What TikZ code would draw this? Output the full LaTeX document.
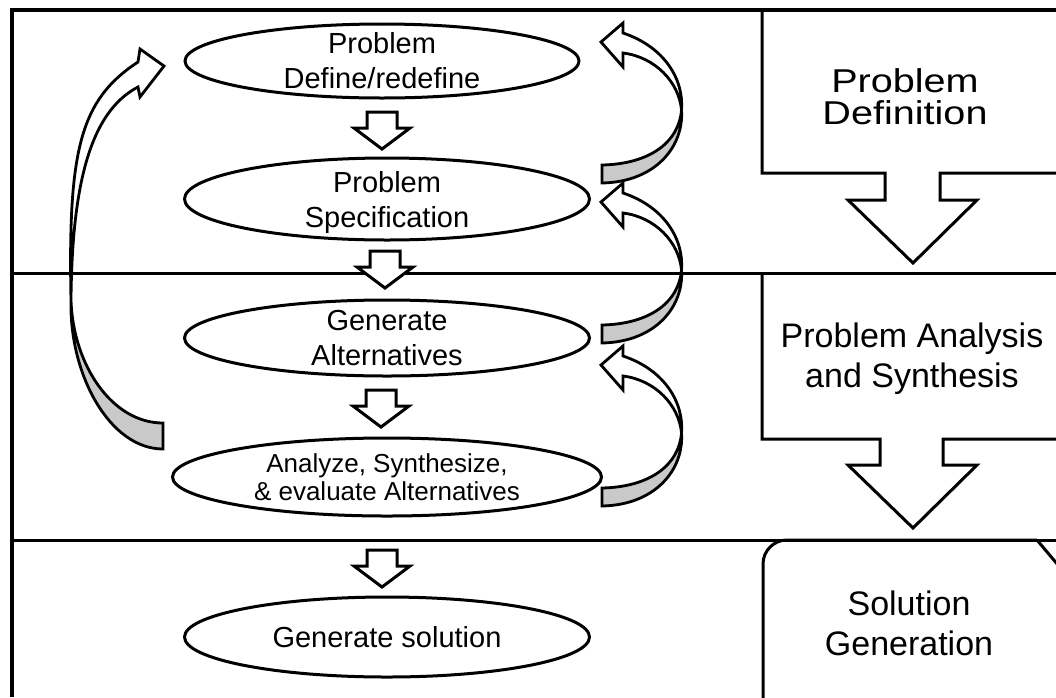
\documentclass[tikz,border=0pt]{standalone}
\usepackage{fontspec}
\setmainfont{Liberation Sans}
\newfontfamily\widesans[FakeStretch=1.2]{Liberation Sans}
\usetikzlibrary{shapes.geometric}

\begin{document}
\begin{tikzpicture}[x=1pt,y=-1pt,
  frame/.style={line width=3.5pt},
  divider/.style={line width=3pt},
  outline/.style={line width=3pt, line join=miter},
  stage/.style={ellipse, draw, line width=3pt, fill=white, inner sep=0pt},
  stagetext/.style={align=center, inner sep=0pt, font=\fontsize{29}{35}\selectfont},
  phase/.style={align=center, inner sep=0pt, font=\fontsize{34}{40}\selectfont},
  ribbon/.style={fill=white, draw, line width=2.8pt, line join=miter},
  underside/.style={fill=black!21, draw, line width=2.8pt, line join=miter},
  smalldown/.pic={\draw[outline, fill=white] (-15,0) -- (15,0) -- (15,16) -- (28,16)
      -- (0,37) -- (-28,16) -- (-15,16) -- cycle;},
  returnloop/.pic={
    \draw[underside] (80.5,68) .. controls (78,100) and (49,122) .. (1,123) -- (1,141)
      .. controls (54,140) and (83,105) .. (80.5,68) -- cycle;
    \draw[ribbon] (22,11) .. controls (54,15) and (78,40) .. (80.5,68)
      .. controls (83,38) and (64,5) .. (22,-9) -- (22,-19) -- (0,0) -- (22,25) -- cycle;}
]
\useasboundingbox (0,0) rectangle (1056,697);

% frame and phase dividers
\draw[frame] (12,697) -- (12,10) -- (1056,10);
\draw[divider] (12,273) -- (1056,273);
\draw[divider] (12,540) -- (1056,540);

% phase blocks on the right
\draw[outline] (762,10) -- (762,173) -- (885,173) -- (885,200) -- (848,200) -- (913,263)
  -- (977,200) -- (940,200) -- (940,173) -- (1056,173);
\draw[outline] (762,273) -- (762,439) -- (880,439) -- (880,465) -- (848,465) -- (913,528)
  -- (977,465) -- (943,465) -- (943,439) -- (1056,439);
\draw[outline, rounded corners=24pt] (763,700) -- (763,540) -- (1037,540);
\draw[outline] (1037,540) -- (1058,565);

\node[phase, font=\widesans\fontsize{33}{32}\selectfont] (defphase) at (905,97) {Problem\\Definition};
\node[phase] (anaphase) at (912,359) {Problem Analysis\\and Synthesis};
\node[phase] (solphase) at (909,623) {Solution\\Generation};

% design stages
\node[stage, minimum width=394pt, minimum height=74pt] (define) at (382,61) {};
\node[stage, minimum width=405pt, minimum height=82pt] (spec) at (387,199) {};
\node[stage, minimum width=405pt, minimum height=76pt] (gen) at (387,338) {};
\node[stage, minimum width=429pt, minimum height=78pt] (eval) at (387,477) {};
\node[stage, minimum width=405pt, minimum height=80pt] (sol) at (387,637) {};

\node[stagetext] (define-t) at (define.center) {Problem\\Define/redefine};
\node[stagetext] (spec-t) at (spec.center) {Problem\\\raisebox{0pt}[\height][0pt]{Specification}};
\node[stagetext] (gen-t) at (gen.center) {Generate\\Alternatives};
\node[stagetext, font=\fontsize{26}{28}\selectfont] (eval-t) at (eval.center)
  {Analyze, Synthesize,\\\& evaluate Alternatives};
\node[stagetext] (sol-t) at (sol.center) {Generate solution};

% forward steps
\pic (step1) at (382,112) {smalldown};
\pic (step2) at (385,251) {smalldown};
\pic (step3) at (381,390) {smalldown};
\pic (step4) at (382,550) {smalldown};

% feedback loops on the right
\pic (back1) at (601,42) {returnloop};
\pic (back2) at (601,202) {returnloop};
\pic (back3) at (601,365) {returnloop};

% long feedback loop on the left
\draw[underside] (71,300) .. controls (73,365) and (112,423) .. (163,423) -- (163,449)
  .. controls (110,449) and (69,375) .. (71,300) -- cycle;
\draw[ribbon] (138,87) .. controls (90,112) and (72,185) .. (71,300)
  .. controls (68,150) and (80,100) .. (138,62) -- (140,49) -- (164,66) -- (140,97) -- cycle;
\end{tikzpicture}
\end{document}
